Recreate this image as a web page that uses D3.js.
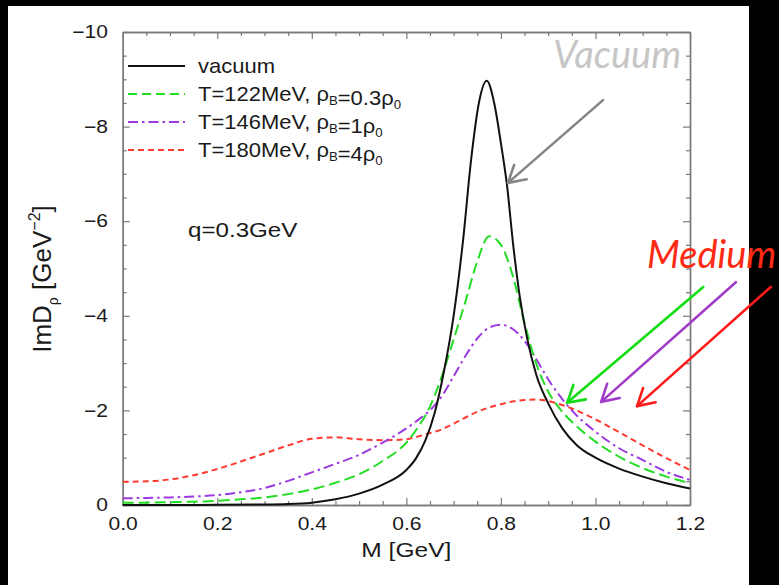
<!DOCTYPE html>
<html>
<head>
<meta charset="utf-8">
<script src="https://cdn.jsdelivr.net/npm/d3@7"></script>
<style>
  body { margin: 0; background: #000; }
  svg { display: block; }
</style>
</head>
<body>
<div id="chart-area"></div>
<script>
// mass grid shared by the three in-medium curves (GeV)
const massGrid = [0, 0.05, 0.1, 0.15, 0.2, 0.25, 0.3, 0.35, 0.4, 0.45, 0.5, 0.55, 0.6, 0.625, 0.65, 0.675,
  0.7, 0.725, 0.75, 0.775, 0.8, 0.825, 0.85, 0.875, 0.9, 0.925, 0.95, 1.0, 1.05, 1.1, 1.15, 1.2];

const imdT122 = [-0.05, -0.05, -0.06, -0.07, -0.09, -0.12, -0.16, -0.23, -0.33, -0.47, -0.65, -0.93, -1.32, -1.65, -2.08, -2.72,
  -3.5, -4.3, -5.15, -5.68, -5.5, -4.85, -3.85, -2.98, -2.4, -2.03, -1.76, -1.34, -1.02, -0.78, -0.6, -0.46];
const imdT146 = [-0.14, -0.15, -0.16, -0.18, -0.21, -0.27, -0.36, -0.51, -0.69, -0.87, -1.06, -1.32, -1.62, -1.8, -2.0, -2.3,
  -2.72, -3.15, -3.52, -3.75, -3.81, -3.72, -3.47, -3.08, -2.66, -2.3, -2.0, -1.55, -1.2, -0.95, -0.7, -0.53];
const imdT180 = [-0.49, -0.5, -0.54, -0.63, -0.76, -0.92, -1.09, -1.26, -1.4, -1.43, -1.39, -1.37, -1.39, -1.45, -1.52, -1.6,
  -1.72, -1.85, -1.97, -2.06, -2.13, -2.19, -2.22, -2.23, -2.2, -2.13, -2.04, -1.81, -1.54, -1.26, -0.99, -0.74];

// vacuum curve needs a finer grid around the peak
const vacuumMass = [0, 0.1, 0.2, 0.3, 0.35, 0.4, 0.45, 0.5, 0.55, 0.6, 0.62, 0.64, 0.66, 0.68, 0.7, 0.72, 0.737, 0.754,
  0.77, 0.786, 0.8, 0.813, 0.826, 0.84, 0.855, 0.875, 0.9, 0.93, 0.96, 1.0, 1.05, 1.1, 1.15, 1.2];
const vacuumImD = [0, 0, -0.005, -0.01, -0.02, -0.05, -0.12, -0.24, -0.43, -0.74, -0.98, -1.36, -1.95, -2.85, -4.0, -5.6, -7.3, -8.53,
  -8.97, -8.49, -7.65, -6.75, -5.5, -4.4, -3.55, -2.75, -2.15, -1.62, -1.27, -1.0, -0.77, -0.6, -0.46, -0.35];

const xMajorTicks = [0, 0.2, 0.4, 0.6, 0.8, 1.0, 1.2];
const yMajorTicks = [0, -2, -4, -6, -8, -10];

// arrows in data units: [tailM, tailImD, tipM, tipImD]
const vacuumArrow = [1.016, -8.56, 0.815, -6.81];
const mediumArrows = [
  [1.228, -4.61, 0.94, -2.16],
  [1.297, -4.71, 1.012, -2.18],
  [1.371, -4.61, 1.088, -2.09],
];

let width = 779;
let height = 585;
let plot = { left: 122.7, right: 690, top: 32, bottom: 505 };
const SX = 1.17; // the original text is a little wider than Arial
const font = "'Liberation Sans', Arial, sans-serif";

let svg = d3.select('#chart-area').append('svg').attr('width', width).attr('height', height);

svg.append('rect').attr('width', width).attr('height', height).attr('fill', '#000');
svg.append('rect').attr('x', 8).attr('y', 6).attr('width', 741).attr('height', 579).attr('fill', '#fff');

let x = d3.scaleLinear().domain([0, 1.2]).range([plot.left, plot.right]);
let y = d3.scaleLinear().domain([0, -10]).range([plot.bottom, plot.top]);

let xMinor = d3.range(0, 1.2001, 0.05).filter((v) => Math.abs(v * 5 - Math.round(v * 5)) > 1e-6);
let yMinor = d3.range(0, -10.001, -0.5).filter((v) => Math.abs(v / 2 - Math.round(v / 2)) > 1e-6);

function styleAxis(g) {
  g.selectAll('path.domain').attr('stroke', '#7a7a7a').attr('stroke-width', 1.4);
  g.selectAll('.tick line').attr('stroke', '#7a7a7a').attr('stroke-width', 1.2);
}

//axes: major ticks with labels, minor ticks, and mirrored ticks on top/right
svg.append('g').attr('transform', `translate(0,${plot.bottom})`)
  .call(d3.axisBottom(x).tickValues(xMajorTicks).tickSizeInner(-7).tickSizeOuter(0).tickPadding(12).tickFormat(d3.format('.1f')));
svg.append('g').attr('transform', `translate(0,${plot.bottom})`)
  .call(d3.axisBottom(x).tickValues(xMinor).tickSizeInner(-4).tickSizeOuter(0).tickFormat(''));
svg.append('g').attr('transform', `translate(0,${plot.top})`)
  .call(d3.axisTop(x).tickValues(xMajorTicks).tickSizeInner(-7).tickSizeOuter(0).tickFormat(''));
svg.append('g').attr('transform', `translate(0,${plot.top})`)
  .call(d3.axisTop(x).tickValues(xMinor).tickSizeInner(-4).tickSizeOuter(0).tickFormat(''));

svg.append('g').attr('transform', `translate(${plot.left},0)`)
  .call(d3.axisLeft(y).tickValues(yMajorTicks).tickSizeInner(-7).tickSizeOuter(0).tickPadding(12.6)
    .tickFormat((d) => (d === 0 ? '0' : '\u2212' + Math.abs(d))));
svg.append('g').attr('transform', `translate(${plot.left},0)`)
  .call(d3.axisLeft(y).tickValues(yMinor).tickSizeInner(-4).tickSizeOuter(0).tickFormat(''));
svg.append('g').attr('transform', `translate(${plot.right},0)`)
  .call(d3.axisRight(y).tickValues(yMajorTicks).tickSizeInner(-7).tickSizeOuter(0).tickFormat(''));
svg.append('g').attr('transform', `translate(${plot.right},0)`)
  .call(d3.axisRight(y).tickValues(yMinor).tickSizeInner(-4).tickSizeOuter(0).tickFormat(''));

svg.selectAll('g').call(styleAxis);
svg.selectAll('.tick text')
  .attr('font-family', font).attr('font-size', 18).attr('fill', '#1a1a1a')
  .attr('transform', `scale(${SX},1)`);

//curves
let line = d3.line().x((d) => x(d[0])).y((d) => y(d[1])).curve(d3.curveMonotoneX);

let series = [
  { name: 'T180', pts: d3.zip(massGrid, imdT180), color: '#ff3b30', dash: '6,4' },
  { name: 'T146', pts: d3.zip(massGrid, imdT146), color: '#9b3ae0', dash: '10,4,2.5,4' },
  { name: 'T122', pts: d3.zip(massGrid, imdT122), color: '#22dd22', dash: '11,5' },
  { name: 'vacuum', pts: d3.zip(vacuumMass, vacuumImD), color: '#111', dash: null },
];

svg.append('g').selectAll('path').data(series).enter().append('path')
  .attr('d', (d) => line(d.pts))
  .attr('fill', 'none')
  .attr('stroke', (d) => d.color)
  .attr('stroke-width', 2)
  .attr('stroke-dasharray', (d) => d.dash);

//legend
let legendRows = [
  { color: '#111', dash: null, label: [['vacuum']] },
  { color: '#22dd22', dash: '9,5', label: [['T=122MeV, \u03c1'], ['B', 'sub'], ['=0.3\u03c1'], ['0', 'sub']] },
  { color: '#9b3ae0', dash: '10,4,2.5,4', label: [['T=146MeV, \u03c1'], ['B', 'sub'], ['=1\u03c1'], ['0', 'sub']] },
  { color: '#ff3b30', dash: '6,4', label: [['T=180MeV, \u03c1'], ['B', 'sub'], ['=4\u03c1'], ['0', 'sub']] },
];
let legend = svg.append('g');
legendRows.forEach((row, i) => {
  let ly = 66 + i * 28;
  legend.append('line').attr('x1', 128).attr('x2', 185).attr('y1', ly).attr('y2', ly)
    .attr('stroke', row.color).attr('stroke-width', 2).attr('stroke-dasharray', row.dash);
  let t = legend.append('text')
    .attr('transform', `translate(198,${ly + 7}) scale(1.1,1)`)
    .attr('font-family', font).attr('font-size', 20).attr('fill', '#1a1a1a');
  row.label.forEach(([s, kind]) => {
    if (kind === 'sub') {
      t.append('tspan').attr('font-size', 12).attr('dy', 4).text(s);
      t.append('tspan').attr('dy', -4).text('');
    } else {
      t.append('tspan').text(s);
    }
  });
});

svg.append('text')
  .attr('transform', `translate(188,237) scale(1.15,1)`)
  .attr('font-family', font).attr('font-size', 21).attr('fill', '#1a1a1a')
  .text('q=0.3GeV');

//axis titles
svg.append('text')
  .attr('transform', `translate(${(plot.left + plot.right) / 2},557) scale(${SX},1)`)
  .attr('text-anchor', 'middle')
  .attr('font-family', font).attr('font-size', 21).attr('fill', '#1a1a1a')
  .text('M [GeV]');

let yTitle = svg.append('text')
  .attr('transform', 'translate(51,279) rotate(-90)')
  .attr('text-anchor', 'middle')
  .attr('font-family', font).attr('font-size', 26).attr('fill', '#1a1a1a');
yTitle.append('tspan').text('ImD');
yTitle.append('tspan').attr('font-size', 14).attr('dy', 7).text('\u03c1');
yTitle.append('tspan').attr('dy', -7).text('  [GeV');
yTitle.append('tspan').attr('font-size', 16).attr('dy', -11).text('\u22122');
yTitle.append('tspan').attr('dy', 11).text(']');

//annotations
svg.append('text')
  .attr('x', 553).attr('y', 68)
  .attr('font-family', 'Lato, sans-serif').attr('font-style', 'italic').attr('font-size', 38)
  .attr('fill', '#c6c6c6')
  .text('Vacuum');

svg.append('text')
  .attr('x', 647).attr('y', 268)
  .attr('font-family', 'Lato, sans-serif').attr('font-style', 'italic').attr('font-size', 38)
  .attr('fill', '#ff2a14')
  .text('Medium');

function arrow(a, color) {
  let x0 = x(a[0]), y0 = y(a[1]), x1 = x(a[2]), y1 = y(a[3]);
  let ang = Math.atan2(y0 - y1, x0 - x1);
  let wing = 19, spread = Math.PI / 6;
  let g = svg.append('g').attr('stroke', color).attr('stroke-width', 2.6).attr('fill', 'none')
    .attr('stroke-linecap', 'round').attr('stroke-linejoin', 'round');
  g.append('line').attr('x1', x0).attr('y1', y0).attr('x2', x1).attr('y2', y1);
  g.append('path').attr('d', d3.line()([
    [x1 + wing * Math.cos(ang - spread), y1 + wing * Math.sin(ang - spread)],
    [x1, y1],
    [x1 + wing * Math.cos(ang + spread), y1 + wing * Math.sin(ang + spread)],
  ]));
}

arrow(vacuumArrow, '#858585');
let arrowColors = ['#11dd11', '#a03cc8', '#ff1a1a'];
mediumArrows.forEach((a, i) => arrow(a, arrowColors[i]));
</script>
</body>
</html>
